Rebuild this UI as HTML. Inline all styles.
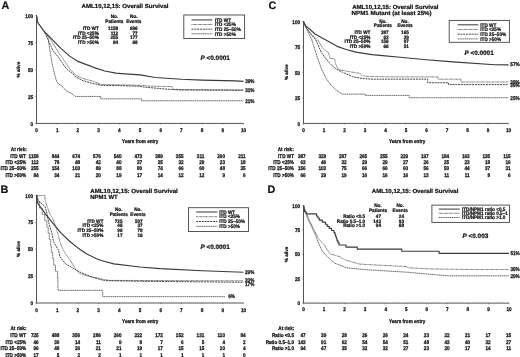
<!DOCTYPE html>
<html><head><meta charset="utf-8"><style>
html,body{margin:0;padding:0;background:#fff;}
svg{display:block;will-change:transform;}
text{font-family:"Liberation Sans",sans-serif;fill:#111;stroke:#111;stroke-width:0.22px;stroke-linejoin:round;text-rendering:geometricPrecision;}
</style></head><body>
<svg width="520" height="357" viewBox="0 0 520 357">
<rect width="520" height="357" fill="#fff"/>
<text x="1.5" y="8.7" font-size="10.8" font-weight="bold" fill="#000">A</text>
<text x="81.50" y="8.27" font-size="5.9" font-weight="bold" textLength="87.00" lengthAdjust="spacingAndGlyphs" fill="#000">AML10,12,15: Overall Survival</text>
<line x1="36.50" y1="15.30" x2="36.50" y2="123.40" stroke="#555" stroke-width="1.0"/>
<line x1="36.50" y1="123.40" x2="243.50" y2="123.40" stroke="#555" stroke-width="1.0"/>
<line x1="35.30" y1="123.40" x2="36.50" y2="123.40" stroke="#555" stroke-width="0.6"/>
<text transform="translate(33.10 125.97) scale(1 1.15)" font-size="4.65" text-anchor="end" font-weight="bold">0</text>
<line x1="35.30" y1="96.45" x2="36.50" y2="96.45" stroke="#555" stroke-width="0.6"/>
<text transform="translate(33.10 99.02) scale(1 1.15)" font-size="4.65" text-anchor="end" font-weight="bold">25</text>
<line x1="35.30" y1="69.50" x2="36.50" y2="69.50" stroke="#555" stroke-width="0.6"/>
<text transform="translate(33.10 72.07) scale(1 1.15)" font-size="4.65" text-anchor="end" font-weight="bold">50</text>
<line x1="35.30" y1="42.55" x2="36.50" y2="42.55" stroke="#555" stroke-width="0.6"/>
<text transform="translate(33.10 45.12) scale(1 1.15)" font-size="4.65" text-anchor="end" font-weight="bold">75</text>
<line x1="35.30" y1="15.60" x2="36.50" y2="15.60" stroke="#555" stroke-width="0.6"/>
<text transform="translate(33.10 18.17) scale(1 1.15)" font-size="4.65" text-anchor="end" font-weight="bold">100</text>
<line x1="36.50" y1="123.40" x2="36.50" y2="124.60" stroke="#555" stroke-width="0.6"/>
<text transform="translate(36.50 132.27) scale(1 1.15)" font-size="4.65" text-anchor="middle" font-weight="bold">0</text>
<line x1="57.20" y1="123.40" x2="57.20" y2="124.60" stroke="#555" stroke-width="0.6"/>
<text transform="translate(57.20 132.27) scale(1 1.15)" font-size="4.65" text-anchor="middle" font-weight="bold">1</text>
<line x1="77.90" y1="123.40" x2="77.90" y2="124.60" stroke="#555" stroke-width="0.6"/>
<text transform="translate(77.90 132.27) scale(1 1.15)" font-size="4.65" text-anchor="middle" font-weight="bold">2</text>
<line x1="98.60" y1="123.40" x2="98.60" y2="124.60" stroke="#555" stroke-width="0.6"/>
<text transform="translate(98.60 132.27) scale(1 1.15)" font-size="4.65" text-anchor="middle" font-weight="bold">3</text>
<line x1="119.30" y1="123.40" x2="119.30" y2="124.60" stroke="#555" stroke-width="0.6"/>
<text transform="translate(119.30 132.27) scale(1 1.15)" font-size="4.65" text-anchor="middle" font-weight="bold">4</text>
<line x1="140.00" y1="123.40" x2="140.00" y2="124.60" stroke="#555" stroke-width="0.6"/>
<text transform="translate(140.00 132.27) scale(1 1.15)" font-size="4.65" text-anchor="middle" font-weight="bold">5</text>
<line x1="160.70" y1="123.40" x2="160.70" y2="124.60" stroke="#555" stroke-width="0.6"/>
<text transform="translate(160.70 132.27) scale(1 1.15)" font-size="4.65" text-anchor="middle" font-weight="bold">6</text>
<line x1="181.40" y1="123.40" x2="181.40" y2="124.60" stroke="#555" stroke-width="0.6"/>
<text transform="translate(181.40 132.27) scale(1 1.15)" font-size="4.65" text-anchor="middle" font-weight="bold">7</text>
<line x1="202.10" y1="123.40" x2="202.10" y2="124.60" stroke="#555" stroke-width="0.6"/>
<text transform="translate(202.10 132.27) scale(1 1.15)" font-size="4.65" text-anchor="middle" font-weight="bold">8</text>
<line x1="222.80" y1="123.40" x2="222.80" y2="124.60" stroke="#555" stroke-width="0.6"/>
<text transform="translate(222.80 132.27) scale(1 1.15)" font-size="4.65" text-anchor="middle" font-weight="bold">9</text>
<line x1="243.50" y1="123.40" x2="243.50" y2="124.60" stroke="#555" stroke-width="0.6"/>
<text transform="translate(243.50 132.27) scale(1 1.15)" font-size="4.65" text-anchor="middle" font-weight="bold">10</text>
<text x="20.17" y="69.60" font-size="4.65" font-weight="bold" text-anchor="middle" transform="rotate(-90 20.17 69.60)" fill="#111">% alive</text>
<text transform="translate(122.10 143.17) scale(1 1.15)" font-size="4.65" font-weight="bold" textLength="36.30" lengthAdjust="spacingAndGlyphs">Years from entry</text>
<text transform="translate(114.40 17.94) scale(1 1.07)" font-size="4.65" text-anchor="middle" font-weight="bold">No.</text>
<text transform="translate(133.80 17.94) scale(1 1.07)" font-size="4.65" text-anchor="middle" font-weight="bold">No.</text>
<text transform="translate(114.40 22.74) scale(1 1.07)" font-size="4.65" text-anchor="middle" font-weight="bold">Patients</text>
<text transform="translate(133.80 22.74) scale(1 1.07)" font-size="4.65" text-anchor="middle" font-weight="bold">Events</text>
<text transform="translate(98.80 29.94) scale(1 1.07)" font-size="4.65" text-anchor="end" font-weight="bold">ITD WT</text>
<text transform="translate(118.20 29.94) scale(1 1.07)" font-size="4.65" text-anchor="end" font-weight="bold">1158</text>
<text transform="translate(137.70 29.94) scale(1 1.07)" font-size="4.65" text-anchor="end" font-weight="bold">696</text>
<text transform="translate(98.80 34.54) scale(1 1.07)" font-size="4.65" text-anchor="end" font-weight="bold">ITD &lt;25%</text>
<text transform="translate(118.20 34.54) scale(1 1.07)" font-size="4.65" text-anchor="end" font-weight="bold">112</text>
<text transform="translate(137.70 34.54) scale(1 1.07)" font-size="4.65" text-anchor="end" font-weight="bold">77</text>
<text transform="translate(98.80 39.04) scale(1 1.07)" font-size="4.65" text-anchor="end" font-weight="bold">ITD 25–50%</text>
<text transform="translate(118.20 39.04) scale(1 1.07)" font-size="4.65" text-anchor="end" font-weight="bold">255</text>
<text transform="translate(137.70 39.04) scale(1 1.07)" font-size="4.65" text-anchor="end" font-weight="bold">177</text>
<text transform="translate(98.80 43.54) scale(1 1.07)" font-size="4.65" text-anchor="end" font-weight="bold">ITD &gt;50%</text>
<text transform="translate(118.20 43.54) scale(1 1.07)" font-size="4.65" text-anchor="end" font-weight="bold">84</text>
<text transform="translate(137.70 43.54) scale(1 1.07)" font-size="4.65" text-anchor="end" font-weight="bold">68</text>
<rect x="183.80" y="15.00" width="60.80" height="23.50" fill="none" stroke="#444" stroke-width="0.9"/>
<line x1="191.50" y1="19.90" x2="212.30" y2="19.90" stroke="#484848" stroke-width="1.1"/>
<text transform="translate(215.00 21.69) scale(1 1.1)" font-size="4.65" font-weight="bold">ITD WT</text>
<line x1="191.50" y1="24.50" x2="212.30" y2="24.50" stroke="#505050" stroke-width="0.9" stroke-dasharray="0.8 0.45"/>
<text transform="translate(215.00 26.29) scale(1 1.1)" font-size="4.65" font-weight="bold">ITD &lt;25%</text>
<line x1="191.50" y1="29.20" x2="212.30" y2="29.20" stroke="#333" stroke-width="0.9" stroke-dasharray="2 0.8"/>
<text transform="translate(215.00 30.99) scale(1 1.1)" font-size="4.65" font-weight="bold">ITD 25–50%</text>
<line x1="191.50" y1="33.80" x2="212.30" y2="33.80" stroke="#5a5a5a" stroke-width="0.9" stroke-dasharray="1.4 0.45"/>
<text transform="translate(215.00 35.59) scale(1 1.1)" font-size="4.65" font-weight="bold">ITD &gt;50%</text>
<text x="200.50" y="59.50" font-size="6.4" font-weight="bold" fill="#000"><tspan font-style="italic">P</tspan> &lt;0.0001</text>
<path d="M36.50,15.60 L37.70,22.50 L44.37,31.77 L52.85,40.18 L61.13,48.59 L69.62,56.13 L77.28,61.09 L86.39,64.65 L90.73,66.16 L94.87,67.88 L104.81,71.01 L115.99,73.17 L121.58,73.60 L140.00,74.89 L155.32,77.48 L181.40,79.20 L202.10,80.06 L235.01,80.93 L243.50,81.36" fill="none" stroke="#3a3a3a" stroke-width="1.15" stroke-linejoin="round"/>
<path d="M36.50,15.60 L37.70,22.50 L44.37,31.77 L47.88,35.11 L56.16,48.59 L63.00,58.72 L69.62,68.75 L76.24,75.54 L83.07,78.45 L93.84,81.47 L101.50,84.59 L119.30,84.81 L142.90,85.45 L150.35,86.21 L172.08,86.53 L173.12,89.44 L243.50,89.98" fill="none" stroke="#505050" stroke-width="0.9" stroke-dasharray="0.8 0.45" stroke-linejoin="round"/>
<path d="M36.50,15.60 L37.70,22.50 L44.37,31.77 L46.02,35.11 L52.85,50.31 L59.48,58.72 L66.31,68.75 L72.93,73.81 L75.42,76.83 L83.07,80.71 L90.73,82.97 L101.50,85.35 L119.30,85.67 L140.00,86.21 L142.90,86.96 L164.63,89.01 L181.40,89.98 L243.50,90.31" fill="none" stroke="#333" stroke-width="0.9" stroke-dasharray="2 0.8" stroke-linejoin="round"/>
<path d="M36.50,15.60 L37.70,22.50 L44.37,31.77 L47.88,36.84 L50.37,53.55 L52.85,67.13 L56.16,79.96 L58.03,83.95 L61.55,85.35 L66.10,90.84 L70.86,93.11 L75.42,96.45 L100.67,96.45 L100.67,98.82 L141.45,98.82 L141.45,100.76 L243.50,100.76" fill="none" stroke="#5a5a5a" stroke-width="0.9" stroke-dasharray="1.4 0.45" stroke-linejoin="round"/>
<text transform="translate(245.20 83.07) scale(1 1.15)" font-size="4.65" font-weight="bold">39%</text>
<text transform="translate(245.20 92.17) scale(1 1.15)" font-size="4.65" font-weight="bold">31%</text>
<text transform="translate(245.20 102.67) scale(1 1.15)" font-size="4.65" font-weight="bold">21%</text>
<text transform="translate(10.80 151.07) scale(1 1.15)" font-size="4.65" font-weight="bold">At risk:</text>
<text transform="translate(26.20 157.57) scale(1 1.15)" font-size="4.65" text-anchor="end" font-weight="bold">ITD WT</text>
<text transform="translate(38.70 157.57) scale(1 1.15)" font-size="4.65" text-anchor="end" font-weight="bold">1158</text>
<text transform="translate(59.40 157.57) scale(1 1.15)" font-size="4.65" text-anchor="end" font-weight="bold">844</text>
<text transform="translate(80.10 157.57) scale(1 1.15)" font-size="4.65" text-anchor="end" font-weight="bold">674</text>
<text transform="translate(100.80 157.57) scale(1 1.15)" font-size="4.65" text-anchor="end" font-weight="bold">576</text>
<text transform="translate(121.50 157.57) scale(1 1.15)" font-size="4.65" text-anchor="end" font-weight="bold">540</text>
<text transform="translate(142.20 157.57) scale(1 1.15)" font-size="4.65" text-anchor="end" font-weight="bold">473</text>
<text transform="translate(162.90 157.57) scale(1 1.15)" font-size="4.65" text-anchor="end" font-weight="bold">389</text>
<text transform="translate(183.60 157.57) scale(1 1.15)" font-size="4.65" text-anchor="end" font-weight="bold">355</text>
<text transform="translate(204.30 157.57) scale(1 1.15)" font-size="4.65" text-anchor="end" font-weight="bold">311</text>
<text transform="translate(225.00 157.57) scale(1 1.15)" font-size="4.65" text-anchor="end" font-weight="bold">260</text>
<text transform="translate(245.70 157.57) scale(1 1.15)" font-size="4.65" text-anchor="end" font-weight="bold">211</text>
<text transform="translate(26.20 164.07) scale(1 1.15)" font-size="4.65" text-anchor="end" font-weight="bold">ITD &lt;25%</text>
<text transform="translate(38.70 164.07) scale(1 1.15)" font-size="4.65" text-anchor="end" font-weight="bold">112</text>
<text transform="translate(59.40 164.07) scale(1 1.15)" font-size="4.65" text-anchor="end" font-weight="bold">78</text>
<text transform="translate(80.10 164.07) scale(1 1.15)" font-size="4.65" text-anchor="end" font-weight="bold">48</text>
<text transform="translate(100.80 164.07) scale(1 1.15)" font-size="4.65" text-anchor="end" font-weight="bold">42</text>
<text transform="translate(121.50 164.07) scale(1 1.15)" font-size="4.65" text-anchor="end" font-weight="bold">40</text>
<text transform="translate(142.20 164.07) scale(1 1.15)" font-size="4.65" text-anchor="end" font-weight="bold">37</text>
<text transform="translate(162.90 164.07) scale(1 1.15)" font-size="4.65" text-anchor="end" font-weight="bold">35</text>
<text transform="translate(183.60 164.07) scale(1 1.15)" font-size="4.65" text-anchor="end" font-weight="bold">32</text>
<text transform="translate(204.30 164.07) scale(1 1.15)" font-size="4.65" text-anchor="end" font-weight="bold">29</text>
<text transform="translate(225.00 164.07) scale(1 1.15)" font-size="4.65" text-anchor="end" font-weight="bold">23</text>
<text transform="translate(245.70 164.07) scale(1 1.15)" font-size="4.65" text-anchor="end" font-weight="bold">18</text>
<text transform="translate(26.20 170.47) scale(1 1.15)" font-size="4.65" text-anchor="end" font-weight="bold">ITD 25–50%</text>
<text transform="translate(38.70 170.47) scale(1 1.15)" font-size="4.65" text-anchor="end" font-weight="bold">255</text>
<text transform="translate(59.40 170.47) scale(1 1.15)" font-size="4.65" text-anchor="end" font-weight="bold">154</text>
<text transform="translate(80.10 170.47) scale(1 1.15)" font-size="4.65" text-anchor="end" font-weight="bold">103</text>
<text transform="translate(100.80 170.47) scale(1 1.15)" font-size="4.65" text-anchor="end" font-weight="bold">89</text>
<text transform="translate(121.50 170.47) scale(1 1.15)" font-size="4.65" text-anchor="end" font-weight="bold">88</text>
<text transform="translate(142.20 170.47) scale(1 1.15)" font-size="4.65" text-anchor="end" font-weight="bold">80</text>
<text transform="translate(162.90 170.47) scale(1 1.15)" font-size="4.65" text-anchor="end" font-weight="bold">74</text>
<text transform="translate(183.60 170.47) scale(1 1.15)" font-size="4.65" text-anchor="end" font-weight="bold">66</text>
<text transform="translate(204.30 170.47) scale(1 1.15)" font-size="4.65" text-anchor="end" font-weight="bold">60</text>
<text transform="translate(225.00 170.47) scale(1 1.15)" font-size="4.65" text-anchor="end" font-weight="bold">48</text>
<text transform="translate(245.70 170.47) scale(1 1.15)" font-size="4.65" text-anchor="end" font-weight="bold">35</text>
<text transform="translate(26.20 176.97) scale(1 1.15)" font-size="4.65" text-anchor="end" font-weight="bold">ITD &gt;50%</text>
<text transform="translate(38.70 176.97) scale(1 1.15)" font-size="4.65" text-anchor="end" font-weight="bold">84</text>
<text transform="translate(59.40 176.97) scale(1 1.15)" font-size="4.65" text-anchor="end" font-weight="bold">34</text>
<text transform="translate(80.10 176.97) scale(1 1.15)" font-size="4.65" text-anchor="end" font-weight="bold">21</text>
<text transform="translate(100.80 176.97) scale(1 1.15)" font-size="4.65" text-anchor="end" font-weight="bold">20</text>
<text transform="translate(121.50 176.97) scale(1 1.15)" font-size="4.65" text-anchor="end" font-weight="bold">19</text>
<text transform="translate(142.20 176.97) scale(1 1.15)" font-size="4.65" text-anchor="end" font-weight="bold">17</text>
<text transform="translate(162.90 176.97) scale(1 1.15)" font-size="4.65" text-anchor="end" font-weight="bold">14</text>
<text transform="translate(183.60 176.97) scale(1 1.15)" font-size="4.65" text-anchor="end" font-weight="bold">12</text>
<text transform="translate(204.30 176.97) scale(1 1.15)" font-size="4.65" text-anchor="end" font-weight="bold">12</text>
<text transform="translate(225.00 176.97) scale(1 1.15)" font-size="4.65" text-anchor="end" font-weight="bold">9</text>
<text transform="translate(245.70 176.97) scale(1 1.15)" font-size="4.65" text-anchor="end" font-weight="bold">6</text>
<text x="0.6" y="192.5" font-size="10.8" font-weight="bold" fill="#000">B</text>
<text x="90.30" y="193.06" font-size="5.9" font-weight="bold" textLength="87.50" lengthAdjust="spacingAndGlyphs" fill="#000">AML10,12,15: Overall Survival</text>
<text x="90.30" y="199.47" font-size="5.9" font-weight="bold" textLength="27.30" lengthAdjust="spacingAndGlyphs" fill="#000">NPM1 WT</text>
<line x1="36.50" y1="195.10" x2="36.50" y2="303.00" stroke="#555" stroke-width="1.0"/>
<line x1="36.50" y1="303.00" x2="243.50" y2="303.00" stroke="#555" stroke-width="1.0"/>
<line x1="35.30" y1="303.00" x2="36.50" y2="303.00" stroke="#555" stroke-width="0.6"/>
<text transform="translate(33.10 305.17) scale(1 1.15)" font-size="4.65" text-anchor="end" font-weight="bold">0</text>
<line x1="35.30" y1="276.10" x2="36.50" y2="276.10" stroke="#555" stroke-width="0.6"/>
<text transform="translate(33.10 278.27) scale(1 1.15)" font-size="4.65" text-anchor="end" font-weight="bold">25</text>
<line x1="35.30" y1="249.20" x2="36.50" y2="249.20" stroke="#555" stroke-width="0.6"/>
<text transform="translate(33.10 251.37) scale(1 1.15)" font-size="4.65" text-anchor="end" font-weight="bold">50</text>
<line x1="35.30" y1="222.30" x2="36.50" y2="222.30" stroke="#555" stroke-width="0.6"/>
<text transform="translate(33.10 224.47) scale(1 1.15)" font-size="4.65" text-anchor="end" font-weight="bold">75</text>
<line x1="35.30" y1="195.40" x2="36.50" y2="195.40" stroke="#555" stroke-width="0.6"/>
<text transform="translate(33.10 197.57) scale(1 1.15)" font-size="4.65" text-anchor="end" font-weight="bold">100</text>
<line x1="36.50" y1="303.00" x2="36.50" y2="304.20" stroke="#555" stroke-width="0.6"/>
<text transform="translate(36.50 311.67) scale(1 1.15)" font-size="4.65" text-anchor="middle" font-weight="bold">0</text>
<line x1="57.20" y1="303.00" x2="57.20" y2="304.20" stroke="#555" stroke-width="0.6"/>
<text transform="translate(57.20 311.67) scale(1 1.15)" font-size="4.65" text-anchor="middle" font-weight="bold">1</text>
<line x1="77.90" y1="303.00" x2="77.90" y2="304.20" stroke="#555" stroke-width="0.6"/>
<text transform="translate(77.90 311.67) scale(1 1.15)" font-size="4.65" text-anchor="middle" font-weight="bold">2</text>
<line x1="98.60" y1="303.00" x2="98.60" y2="304.20" stroke="#555" stroke-width="0.6"/>
<text transform="translate(98.60 311.67) scale(1 1.15)" font-size="4.65" text-anchor="middle" font-weight="bold">3</text>
<line x1="119.30" y1="303.00" x2="119.30" y2="304.20" stroke="#555" stroke-width="0.6"/>
<text transform="translate(119.30 311.67) scale(1 1.15)" font-size="4.65" text-anchor="middle" font-weight="bold">4</text>
<line x1="140.00" y1="303.00" x2="140.00" y2="304.20" stroke="#555" stroke-width="0.6"/>
<text transform="translate(140.00 311.67) scale(1 1.15)" font-size="4.65" text-anchor="middle" font-weight="bold">5</text>
<line x1="160.70" y1="303.00" x2="160.70" y2="304.20" stroke="#555" stroke-width="0.6"/>
<text transform="translate(160.70 311.67) scale(1 1.15)" font-size="4.65" text-anchor="middle" font-weight="bold">6</text>
<line x1="181.40" y1="303.00" x2="181.40" y2="304.20" stroke="#555" stroke-width="0.6"/>
<text transform="translate(181.40 311.67) scale(1 1.15)" font-size="4.65" text-anchor="middle" font-weight="bold">7</text>
<line x1="202.10" y1="303.00" x2="202.10" y2="304.20" stroke="#555" stroke-width="0.6"/>
<text transform="translate(202.10 311.67) scale(1 1.15)" font-size="4.65" text-anchor="middle" font-weight="bold">8</text>
<line x1="222.80" y1="303.00" x2="222.80" y2="304.20" stroke="#555" stroke-width="0.6"/>
<text transform="translate(222.80 311.67) scale(1 1.15)" font-size="4.65" text-anchor="middle" font-weight="bold">9</text>
<line x1="243.50" y1="303.00" x2="243.50" y2="304.20" stroke="#555" stroke-width="0.6"/>
<text transform="translate(243.50 311.67) scale(1 1.15)" font-size="4.65" text-anchor="middle" font-weight="bold">10</text>
<text x="20.17" y="249.10" font-size="4.65" font-weight="bold" text-anchor="middle" transform="rotate(-90 20.17 249.10)" fill="#111">% alive</text>
<text transform="translate(122.10 322.87) scale(1 1.15)" font-size="4.65" font-weight="bold" textLength="36.30" lengthAdjust="spacingAndGlyphs">Years from entry</text>
<text transform="translate(118.70 210.54) scale(1 1.07)" font-size="4.65" text-anchor="middle" font-weight="bold">No.</text>
<text transform="translate(137.90 210.54) scale(1 1.07)" font-size="4.65" text-anchor="middle" font-weight="bold">No.</text>
<text transform="translate(118.70 215.74) scale(1 1.07)" font-size="4.65" text-anchor="middle" font-weight="bold">Patients</text>
<text transform="translate(137.90 215.74) scale(1 1.07)" font-size="4.65" text-anchor="middle" font-weight="bold">Events</text>
<text transform="translate(103.30 222.54) scale(1 1.07)" font-size="4.65" text-anchor="end" font-weight="bold">ITD WT</text>
<text transform="translate(122.50 222.54) scale(1 1.07)" font-size="4.65" text-anchor="end" font-weight="bold">725</text>
<text transform="translate(142.70 222.54) scale(1 1.07)" font-size="4.65" text-anchor="end" font-weight="bold">507</text>
<text transform="translate(103.30 227.24) scale(1 1.07)" font-size="4.65" text-anchor="end" font-weight="bold">ITD &lt;25%</text>
<text transform="translate(122.50 227.24) scale(1 1.07)" font-size="4.65" text-anchor="end" font-weight="bold">46</text>
<text transform="translate(142.70 227.24) scale(1 1.07)" font-size="4.65" text-anchor="end" font-weight="bold">37</text>
<text transform="translate(103.30 231.84) scale(1 1.07)" font-size="4.65" text-anchor="end" font-weight="bold">ITD 25–50%</text>
<text transform="translate(122.50 231.84) scale(1 1.07)" font-size="4.65" text-anchor="end" font-weight="bold">96</text>
<text transform="translate(142.70 231.84) scale(1 1.07)" font-size="4.65" text-anchor="end" font-weight="bold">78</text>
<text transform="translate(103.30 236.54) scale(1 1.07)" font-size="4.65" text-anchor="end" font-weight="bold">ITD &gt;50%</text>
<text transform="translate(122.50 236.54) scale(1 1.07)" font-size="4.65" text-anchor="end" font-weight="bold">17</text>
<text transform="translate(142.70 236.54) scale(1 1.07)" font-size="4.65" text-anchor="end" font-weight="bold">16</text>
<rect x="188.50" y="207.70" width="60.00" height="23.80" fill="none" stroke="#444" stroke-width="0.9"/>
<line x1="196.20" y1="212.00" x2="217.40" y2="212.00" stroke="#484848" stroke-width="1.1"/>
<text transform="translate(219.20 213.79) scale(1 1.1)" font-size="4.65" font-weight="bold">ITD WT</text>
<line x1="196.20" y1="216.70" x2="217.40" y2="216.70" stroke="#505050" stroke-width="0.9" stroke-dasharray="0.8 0.45"/>
<text transform="translate(219.20 218.49) scale(1 1.1)" font-size="4.65" font-weight="bold">ITD &lt;25%</text>
<line x1="196.20" y1="221.50" x2="217.40" y2="221.50" stroke="#333" stroke-width="0.9" stroke-dasharray="2 0.8"/>
<text transform="translate(219.20 223.29) scale(1 1.1)" font-size="4.65" font-weight="bold">ITD 25–50%</text>
<line x1="196.20" y1="226.30" x2="217.40" y2="226.30" stroke="#5a5a5a" stroke-width="0.9" stroke-dasharray="1.4 0.45"/>
<text transform="translate(219.20 228.09) scale(1 1.1)" font-size="4.65" font-weight="bold">ITD &gt;50%</text>
<text x="200.40" y="249.20" font-size="6.4" font-weight="bold" fill="#000"><tspan font-style="italic">P</tspan> &lt;0.0001</text>
<path d="M36.50,195.40 L37.74,203.36 L46.02,214.66 L52.85,223.05 L61.13,233.17 L69.62,241.24 L77.90,247.91 L86.39,253.83 L96.53,258.78 L101.29,260.50 L113.92,263.83 L140.00,266.95 L160.08,268.68 L202.10,270.72 L243.50,272.23" fill="none" stroke="#3a3a3a" stroke-width="1.15" stroke-linejoin="round"/>
<path d="M36.50,195.40 L44.99,195.40 L44.99,200.03 L47.88,208.42 L50.37,215.09 L52.85,218.53 L55.34,225.21 L57.82,233.60 L59.48,240.27 L61.75,246.83 L65.27,253.50 L70.24,260.18 L75.21,268.57 L79.76,273.63 L88.25,276.10 L101.29,278.90 L108.95,280.40 L243.50,280.83" fill="none" stroke="#505050" stroke-width="0.9" stroke-dasharray="0.8 0.45" stroke-linejoin="round"/>
<path d="M36.50,195.40 L38.57,200.78 L45.19,206.70 L46.85,213.37 L47.88,218.53 L49.33,225.21 L52.02,233.60 L53.47,241.67 L58.44,250.06 L60.10,256.84 L65.27,263.62 L73.55,268.57 L79.76,272.01 L92.80,277.39 L104.60,280.62 L140.00,281.26 L243.50,282.23" fill="none" stroke="#333" stroke-width="0.9" stroke-dasharray="2 0.8" stroke-linejoin="round"/>
<path d="M36.50,195.40H37.53V201.74H39.60V208.06H42.37V214.39H44.78V220.72H46.85V227.05H48.23V233.38H49.27V239.71H50.64V246.04H51.34V252.37H52.72V258.70H53.75V265.03H55.47V271.35H57.55V277.68H57.89V290.34H102.74V296.67H224.87" fill="none" stroke="#5a5a5a" stroke-width="0.9" stroke-dasharray="1.4 0.45" stroke-linejoin="round"/>
<text transform="translate(245.00 273.87) scale(1 1.15)" font-size="4.65" font-weight="bold">29%</text>
<text transform="translate(245.00 282.47) scale(1 1.15)" font-size="4.65" font-weight="bold">20%</text>
<text transform="translate(245.00 286.47) scale(1 1.15)" font-size="4.65" font-weight="bold">17%</text>
<text transform="translate(228.20 298.07) scale(1 1.15)" font-size="4.65" font-weight="bold">6%</text>
<text transform="translate(10.50 330.27) scale(1 1.15)" font-size="4.65" font-weight="bold">At risk:</text>
<text transform="translate(26.20 336.87) scale(1 1.15)" font-size="4.65" text-anchor="end" font-weight="bold">ITD WT</text>
<text transform="translate(38.70 336.87) scale(1 1.15)" font-size="4.65" text-anchor="end" font-weight="bold">725</text>
<text transform="translate(59.40 336.87) scale(1 1.15)" font-size="4.65" text-anchor="end" font-weight="bold">488</text>
<text transform="translate(80.10 336.87) scale(1 1.15)" font-size="4.65" text-anchor="end" font-weight="bold">356</text>
<text transform="translate(100.80 336.87) scale(1 1.15)" font-size="4.65" text-anchor="end" font-weight="bold">286</text>
<text transform="translate(121.50 336.87) scale(1 1.15)" font-size="4.65" text-anchor="end" font-weight="bold">260</text>
<text transform="translate(142.20 336.87) scale(1 1.15)" font-size="4.65" text-anchor="end" font-weight="bold">222</text>
<text transform="translate(162.90 336.87) scale(1 1.15)" font-size="4.65" text-anchor="end" font-weight="bold">172</text>
<text transform="translate(183.60 336.87) scale(1 1.15)" font-size="4.65" text-anchor="end" font-weight="bold">152</text>
<text transform="translate(204.30 336.87) scale(1 1.15)" font-size="4.65" text-anchor="end" font-weight="bold">131</text>
<text transform="translate(225.00 336.87) scale(1 1.15)" font-size="4.65" text-anchor="end" font-weight="bold">110</text>
<text transform="translate(245.70 336.87) scale(1 1.15)" font-size="4.65" text-anchor="end" font-weight="bold">84</text>
<text transform="translate(26.20 343.57) scale(1 1.15)" font-size="4.65" text-anchor="end" font-weight="bold">ITD &lt;25%</text>
<text transform="translate(38.70 343.57) scale(1 1.15)" font-size="4.65" text-anchor="end" font-weight="bold">46</text>
<text transform="translate(59.40 343.57) scale(1 1.15)" font-size="4.65" text-anchor="end" font-weight="bold">30</text>
<text transform="translate(80.10 343.57) scale(1 1.15)" font-size="4.65" text-anchor="end" font-weight="bold">14</text>
<text transform="translate(100.80 343.57) scale(1 1.15)" font-size="4.65" text-anchor="end" font-weight="bold">11</text>
<text transform="translate(121.50 343.57) scale(1 1.15)" font-size="4.65" text-anchor="end" font-weight="bold">9</text>
<text transform="translate(142.20 343.57) scale(1 1.15)" font-size="4.65" text-anchor="end" font-weight="bold">8</text>
<text transform="translate(162.90 343.57) scale(1 1.15)" font-size="4.65" text-anchor="end" font-weight="bold">7</text>
<text transform="translate(183.60 343.57) scale(1 1.15)" font-size="4.65" text-anchor="end" font-weight="bold">6</text>
<text transform="translate(204.30 343.57) scale(1 1.15)" font-size="4.65" text-anchor="end" font-weight="bold">5</text>
<text transform="translate(225.00 343.57) scale(1 1.15)" font-size="4.65" text-anchor="end" font-weight="bold">4</text>
<text transform="translate(245.70 343.57) scale(1 1.15)" font-size="4.65" text-anchor="end" font-weight="bold">2</text>
<text transform="translate(26.20 350.17) scale(1 1.15)" font-size="4.65" text-anchor="end" font-weight="bold">ITD 25–50%</text>
<text transform="translate(38.70 350.17) scale(1 1.15)" font-size="4.65" text-anchor="end" font-weight="bold">96</text>
<text transform="translate(59.40 350.17) scale(1 1.15)" font-size="4.65" text-anchor="end" font-weight="bold">48</text>
<text transform="translate(80.10 350.17) scale(1 1.15)" font-size="4.65" text-anchor="end" font-weight="bold">26</text>
<text transform="translate(100.80 350.17) scale(1 1.15)" font-size="4.65" text-anchor="end" font-weight="bold">21</text>
<text transform="translate(121.50 350.17) scale(1 1.15)" font-size="4.65" text-anchor="end" font-weight="bold">21</text>
<text transform="translate(142.20 350.17) scale(1 1.15)" font-size="4.65" text-anchor="end" font-weight="bold">19</text>
<text transform="translate(162.90 350.17) scale(1 1.15)" font-size="4.65" text-anchor="end" font-weight="bold">17</text>
<text transform="translate(183.60 350.17) scale(1 1.15)" font-size="4.65" text-anchor="end" font-weight="bold">15</text>
<text transform="translate(204.30 350.17) scale(1 1.15)" font-size="4.65" text-anchor="end" font-weight="bold">15</text>
<text transform="translate(225.00 350.17) scale(1 1.15)" font-size="4.65" text-anchor="end" font-weight="bold">10</text>
<text transform="translate(245.70 350.17) scale(1 1.15)" font-size="4.65" text-anchor="end" font-weight="bold">4</text>
<text transform="translate(26.20 356.57) scale(1 1.15)" font-size="4.65" text-anchor="end" font-weight="bold">ITD &gt;50%</text>
<text transform="translate(38.70 356.57) scale(1 1.15)" font-size="4.65" text-anchor="end" font-weight="bold">17</text>
<text transform="translate(59.40 356.57) scale(1 1.15)" font-size="4.65" text-anchor="end" font-weight="bold">5</text>
<text transform="translate(80.10 356.57) scale(1 1.15)" font-size="4.65" text-anchor="end" font-weight="bold">2</text>
<text transform="translate(100.80 356.57) scale(1 1.15)" font-size="4.65" text-anchor="end" font-weight="bold">2</text>
<text transform="translate(121.50 356.57) scale(1 1.15)" font-size="4.65" text-anchor="end" font-weight="bold">1</text>
<text transform="translate(142.20 356.57) scale(1 1.15)" font-size="4.65" text-anchor="end" font-weight="bold">1</text>
<text transform="translate(162.90 356.57) scale(1 1.15)" font-size="4.65" text-anchor="end" font-weight="bold">1</text>
<text transform="translate(183.60 356.57) scale(1 1.15)" font-size="4.65" text-anchor="end" font-weight="bold">1</text>
<text transform="translate(204.30 356.57) scale(1 1.15)" font-size="4.65" text-anchor="end" font-weight="bold">1</text>
<text transform="translate(225.00 356.57) scale(1 1.15)" font-size="4.65" text-anchor="end" font-weight="bold">1</text>
<text transform="translate(245.70 356.57) scale(1 1.15)" font-size="4.65" text-anchor="end" font-weight="bold">0</text>
<text x="268.6" y="8.7" font-size="10.8" font-weight="bold" fill="#000">C</text>
<text x="352.20" y="8.77" font-size="5.9" font-weight="bold" textLength="86.30" lengthAdjust="spacingAndGlyphs" fill="#000">AML10,12,15: Overall Survival</text>
<text x="351.60" y="14.96" font-size="5.9" font-weight="bold" textLength="80.00" lengthAdjust="spacingAndGlyphs" fill="#000">NPM1 Mutant (at least 25%)</text>
<line x1="303.50" y1="21.20" x2="303.50" y2="123.40" stroke="#555" stroke-width="1.0"/>
<line x1="303.50" y1="123.40" x2="508.50" y2="123.40" stroke="#555" stroke-width="1.0"/>
<line x1="302.30" y1="123.40" x2="303.50" y2="123.40" stroke="#555" stroke-width="0.6"/>
<text transform="translate(300.10 125.67) scale(1 1.15)" font-size="4.65" text-anchor="end" font-weight="bold">0</text>
<line x1="302.30" y1="97.93" x2="303.50" y2="97.93" stroke="#555" stroke-width="0.6"/>
<text transform="translate(300.10 100.20) scale(1 1.15)" font-size="4.65" text-anchor="end" font-weight="bold">25</text>
<line x1="302.30" y1="72.45" x2="303.50" y2="72.45" stroke="#555" stroke-width="0.6"/>
<text transform="translate(300.10 74.72) scale(1 1.15)" font-size="4.65" text-anchor="end" font-weight="bold">50</text>
<line x1="302.30" y1="46.98" x2="303.50" y2="46.98" stroke="#555" stroke-width="0.6"/>
<text transform="translate(300.10 49.25) scale(1 1.15)" font-size="4.65" text-anchor="end" font-weight="bold">75</text>
<line x1="302.30" y1="21.50" x2="303.50" y2="21.50" stroke="#555" stroke-width="0.6"/>
<text transform="translate(300.10 23.77) scale(1 1.15)" font-size="4.65" text-anchor="end" font-weight="bold">100</text>
<line x1="303.50" y1="123.40" x2="303.50" y2="124.60" stroke="#555" stroke-width="0.6"/>
<text transform="translate(303.50 131.87) scale(1 1.15)" font-size="4.65" text-anchor="middle" font-weight="bold">0</text>
<line x1="324.00" y1="123.40" x2="324.00" y2="124.60" stroke="#555" stroke-width="0.6"/>
<text transform="translate(324.00 131.87) scale(1 1.15)" font-size="4.65" text-anchor="middle" font-weight="bold">1</text>
<line x1="344.50" y1="123.40" x2="344.50" y2="124.60" stroke="#555" stroke-width="0.6"/>
<text transform="translate(344.50 131.87) scale(1 1.15)" font-size="4.65" text-anchor="middle" font-weight="bold">2</text>
<line x1="365.00" y1="123.40" x2="365.00" y2="124.60" stroke="#555" stroke-width="0.6"/>
<text transform="translate(365.00 131.87) scale(1 1.15)" font-size="4.65" text-anchor="middle" font-weight="bold">3</text>
<line x1="385.50" y1="123.40" x2="385.50" y2="124.60" stroke="#555" stroke-width="0.6"/>
<text transform="translate(385.50 131.87) scale(1 1.15)" font-size="4.65" text-anchor="middle" font-weight="bold">4</text>
<line x1="406.00" y1="123.40" x2="406.00" y2="124.60" stroke="#555" stroke-width="0.6"/>
<text transform="translate(406.00 131.87) scale(1 1.15)" font-size="4.65" text-anchor="middle" font-weight="bold">5</text>
<line x1="426.50" y1="123.40" x2="426.50" y2="124.60" stroke="#555" stroke-width="0.6"/>
<text transform="translate(426.50 131.87) scale(1 1.15)" font-size="4.65" text-anchor="middle" font-weight="bold">6</text>
<line x1="447.00" y1="123.40" x2="447.00" y2="124.60" stroke="#555" stroke-width="0.6"/>
<text transform="translate(447.00 131.87) scale(1 1.15)" font-size="4.65" text-anchor="middle" font-weight="bold">7</text>
<line x1="467.50" y1="123.40" x2="467.50" y2="124.60" stroke="#555" stroke-width="0.6"/>
<text transform="translate(467.50 131.87) scale(1 1.15)" font-size="4.65" text-anchor="middle" font-weight="bold">8</text>
<line x1="488.00" y1="123.40" x2="488.00" y2="124.60" stroke="#555" stroke-width="0.6"/>
<text transform="translate(488.00 131.87) scale(1 1.15)" font-size="4.65" text-anchor="middle" font-weight="bold">9</text>
<line x1="508.50" y1="123.40" x2="508.50" y2="124.60" stroke="#555" stroke-width="0.6"/>
<text transform="translate(508.50 131.87) scale(1 1.15)" font-size="4.65" text-anchor="middle" font-weight="bold">10</text>
<text x="287.67" y="72.20" font-size="4.65" font-weight="bold" text-anchor="middle" transform="rotate(-90 287.67 72.20)" fill="#111">% alive</text>
<text transform="translate(389.00 142.77) scale(1 1.15)" font-size="4.65" font-weight="bold" textLength="36.30" lengthAdjust="spacingAndGlyphs">Years from entry</text>
<text transform="translate(382.90 22.94) scale(1 1.07)" font-size="4.65" text-anchor="middle" font-weight="bold">No.</text>
<text transform="translate(405.00 22.94) scale(1 1.07)" font-size="4.65" text-anchor="middle" font-weight="bold">No.</text>
<text transform="translate(382.90 27.34) scale(1 1.07)" font-size="4.65" text-anchor="middle" font-weight="bold">Patients</text>
<text transform="translate(405.00 27.34) scale(1 1.07)" font-size="4.65" text-anchor="middle" font-weight="bold">Events</text>
<text transform="translate(370.40 34.44) scale(1 1.07)" font-size="4.65" text-anchor="end" font-weight="bold">ITD WT</text>
<text transform="translate(388.70 34.44) scale(1 1.07)" font-size="4.65" text-anchor="end" font-weight="bold">387</text>
<text transform="translate(408.80 34.44) scale(1 1.07)" font-size="4.65" text-anchor="end" font-weight="bold">165</text>
<text transform="translate(370.40 38.84) scale(1 1.07)" font-size="4.65" text-anchor="end" font-weight="bold">ITD &lt;25%</text>
<text transform="translate(388.70 38.84) scale(1 1.07)" font-size="4.65" text-anchor="end" font-weight="bold">63</text>
<text transform="translate(408.80 38.84) scale(1 1.07)" font-size="4.65" text-anchor="end" font-weight="bold">39</text>
<text transform="translate(370.40 43.24) scale(1 1.07)" font-size="4.65" text-anchor="end" font-weight="bold">ITD 25–50%</text>
<text transform="translate(388.70 43.24) scale(1 1.07)" font-size="4.65" text-anchor="end" font-weight="bold">156</text>
<text transform="translate(408.80 43.24) scale(1 1.07)" font-size="4.65" text-anchor="end" font-weight="bold">97</text>
<text transform="translate(370.40 47.64) scale(1 1.07)" font-size="4.65" text-anchor="end" font-weight="bold">ITD &gt;50%</text>
<text transform="translate(388.70 47.64) scale(1 1.07)" font-size="4.65" text-anchor="end" font-weight="bold">66</text>
<text transform="translate(408.80 47.64) scale(1 1.07)" font-size="4.65" text-anchor="end" font-weight="bold">51</text>
<rect x="449.20" y="20.40" width="60.20" height="21.90" fill="none" stroke="#444" stroke-width="0.9"/>
<line x1="457.60" y1="24.80" x2="478.30" y2="24.80" stroke="#484848" stroke-width="1.1"/>
<text transform="translate(480.30 26.59) scale(1 1.1)" font-size="4.65" font-weight="bold">ITD WT</text>
<line x1="457.60" y1="29.50" x2="478.30" y2="29.50" stroke="#505050" stroke-width="0.9" stroke-dasharray="0.8 0.45"/>
<text transform="translate(480.30 31.29) scale(1 1.1)" font-size="4.65" font-weight="bold">ITD &lt;25%</text>
<line x1="457.60" y1="34.20" x2="478.30" y2="34.20" stroke="#333" stroke-width="0.9" stroke-dasharray="2 0.8"/>
<text transform="translate(480.30 35.99) scale(1 1.1)" font-size="4.65" font-weight="bold">ITD 25–50%</text>
<line x1="457.60" y1="38.90" x2="478.30" y2="38.90" stroke="#5a5a5a" stroke-width="0.9" stroke-dasharray="1.4 0.45"/>
<text transform="translate(480.30 40.69) scale(1 1.1)" font-size="4.65" font-weight="bold">ITD &gt;50%</text>
<text x="464.40" y="54.90" font-size="6.4" font-weight="bold" fill="#000"><tspan font-style="italic">P</tspan> &lt;0.0001</text>
<path d="M303.50,21.50 L305.55,25.58 L315.39,34.24 L325.85,40.05 L337.12,46.36 L346.14,49.52 L355.98,52.07 L371.97,54.62 L379.97,55.33 L400.06,57.27 L426.50,59.71 L452.94,61.85 L494.76,64.71 L508.50,64.81" fill="none" stroke="#3a3a3a" stroke-width="1.15" stroke-linejoin="round"/>
<path d="M303.50,21.50 L306.17,28.02 L311.70,34.75 L317.64,39.84 L323.18,48.81 L328.31,52.58 L330.15,58.29 L334.66,58.90 L336.10,65.22 L338.56,69.60 L348.60,71.53 L359.88,73.37 L362.54,75.91 L371.97,76.63 L400.06,76.93 L437.98,76.93 L437.98,79.18 L460.94,79.18 L460.94,82.03 L508.50,82.03" fill="none" stroke="#505050" stroke-width="0.9" stroke-dasharray="0.8 0.45" stroke-linejoin="round"/>
<path d="M303.50,21.50 L306.17,28.02 L310.68,33.73 L315.80,39.84 L321.33,52.58 L326.05,58.90 L330.97,64.60 L336.10,68.99 L342.45,72.25 L352.50,76.63 L362.54,78.56 L371.97,79.18 L427.73,79.18 L427.73,82.74 L448.44,82.74 L448.44,84.58 L508.50,84.58" fill="none" stroke="#333" stroke-width="0.9" stroke-dasharray="2 0.8" stroke-linejoin="round"/>
<path d="M303.50,21.50 L306.17,28.02 L311.90,40.05 L317.03,56.45 L321.54,68.99 L325.85,77.85 L328.71,82.13 L330.97,84.98 L335.69,89.77 L342.25,94.15 L365.41,94.15 L365.41,95.38 L409.28,95.38 L409.28,97.72 L508.50,97.72" fill="none" stroke="#5a5a5a" stroke-width="0.9" stroke-dasharray="1.4 0.45" stroke-linejoin="round"/>
<text transform="translate(510.30 65.97) scale(1 1.15)" font-size="4.65" font-weight="bold">57%</text>
<text transform="translate(510.30 83.87) scale(1 1.15)" font-size="4.65" font-weight="bold">38%</text>
<text transform="translate(510.30 86.87) scale(1 1.15)" font-size="4.65" font-weight="bold">36%</text>
<text transform="translate(510.30 99.57) scale(1 1.15)" font-size="4.65" font-weight="bold">25%</text>
<text transform="translate(277.70 150.87) scale(1 1.15)" font-size="4.65" font-weight="bold">At risk:</text>
<text transform="translate(294.00 157.67) scale(1 1.15)" font-size="4.65" text-anchor="end" font-weight="bold">ITD WT</text>
<text transform="translate(305.70 157.67) scale(1 1.15)" font-size="4.65" text-anchor="end" font-weight="bold">387</text>
<text transform="translate(326.20 157.67) scale(1 1.15)" font-size="4.65" text-anchor="end" font-weight="bold">329</text>
<text transform="translate(346.70 157.67) scale(1 1.15)" font-size="4.65" text-anchor="end" font-weight="bold">287</text>
<text transform="translate(367.20 157.67) scale(1 1.15)" font-size="4.65" text-anchor="end" font-weight="bold">265</text>
<text transform="translate(387.70 157.67) scale(1 1.15)" font-size="4.65" text-anchor="end" font-weight="bold">255</text>
<text transform="translate(408.20 157.67) scale(1 1.15)" font-size="4.65" text-anchor="end" font-weight="bold">229</text>
<text transform="translate(428.70 157.67) scale(1 1.15)" font-size="4.65" text-anchor="end" font-weight="bold">197</text>
<text transform="translate(449.20 157.67) scale(1 1.15)" font-size="4.65" text-anchor="end" font-weight="bold">184</text>
<text transform="translate(469.70 157.67) scale(1 1.15)" font-size="4.65" text-anchor="end" font-weight="bold">163</text>
<text transform="translate(490.20 157.67) scale(1 1.15)" font-size="4.65" text-anchor="end" font-weight="bold">135</text>
<text transform="translate(510.70 157.67) scale(1 1.15)" font-size="4.65" text-anchor="end" font-weight="bold">115</text>
<text transform="translate(294.00 163.97) scale(1 1.15)" font-size="4.65" text-anchor="end" font-weight="bold">ITD &lt;25%</text>
<text transform="translate(305.70 163.97) scale(1 1.15)" font-size="4.65" text-anchor="end" font-weight="bold">63</text>
<text transform="translate(326.20 163.97) scale(1 1.15)" font-size="4.65" text-anchor="end" font-weight="bold">46</text>
<text transform="translate(346.70 163.97) scale(1 1.15)" font-size="4.65" text-anchor="end" font-weight="bold">32</text>
<text transform="translate(367.20 163.97) scale(1 1.15)" font-size="4.65" text-anchor="end" font-weight="bold">29</text>
<text transform="translate(387.70 163.97) scale(1 1.15)" font-size="4.65" text-anchor="end" font-weight="bold">29</text>
<text transform="translate(408.20 163.97) scale(1 1.15)" font-size="4.65" text-anchor="end" font-weight="bold">27</text>
<text transform="translate(428.70 163.97) scale(1 1.15)" font-size="4.65" text-anchor="end" font-weight="bold">26</text>
<text transform="translate(449.20 163.97) scale(1 1.15)" font-size="4.65" text-anchor="end" font-weight="bold">25</text>
<text transform="translate(469.70 163.97) scale(1 1.15)" font-size="4.65" text-anchor="end" font-weight="bold">23</text>
<text transform="translate(490.20 163.97) scale(1 1.15)" font-size="4.65" text-anchor="end" font-weight="bold">18</text>
<text transform="translate(510.70 163.97) scale(1 1.15)" font-size="4.65" text-anchor="end" font-weight="bold">16</text>
<text transform="translate(294.00 170.47) scale(1 1.15)" font-size="4.65" text-anchor="end" font-weight="bold">ITD 25–50%</text>
<text transform="translate(305.70 170.47) scale(1 1.15)" font-size="4.65" text-anchor="end" font-weight="bold">156</text>
<text transform="translate(326.20 170.47) scale(1 1.15)" font-size="4.65" text-anchor="end" font-weight="bold">103</text>
<text transform="translate(346.70 170.47) scale(1 1.15)" font-size="4.65" text-anchor="end" font-weight="bold">75</text>
<text transform="translate(367.20 170.47) scale(1 1.15)" font-size="4.65" text-anchor="end" font-weight="bold">66</text>
<text transform="translate(387.70 170.47) scale(1 1.15)" font-size="4.65" text-anchor="end" font-weight="bold">66</text>
<text transform="translate(408.20 170.47) scale(1 1.15)" font-size="4.65" text-anchor="end" font-weight="bold">60</text>
<text transform="translate(428.70 170.47) scale(1 1.15)" font-size="4.65" text-anchor="end" font-weight="bold">56</text>
<text transform="translate(449.20 170.47) scale(1 1.15)" font-size="4.65" text-anchor="end" font-weight="bold">50</text>
<text transform="translate(469.70 170.47) scale(1 1.15)" font-size="4.65" text-anchor="end" font-weight="bold">44</text>
<text transform="translate(490.20 170.47) scale(1 1.15)" font-size="4.65" text-anchor="end" font-weight="bold">37</text>
<text transform="translate(510.70 170.47) scale(1 1.15)" font-size="4.65" text-anchor="end" font-weight="bold">31</text>
<text transform="translate(294.00 176.87) scale(1 1.15)" font-size="4.65" text-anchor="end" font-weight="bold">ITD &gt;50%</text>
<text transform="translate(305.70 176.87) scale(1 1.15)" font-size="4.65" text-anchor="end" font-weight="bold">66</text>
<text transform="translate(326.20 176.87) scale(1 1.15)" font-size="4.65" text-anchor="end" font-weight="bold">29</text>
<text transform="translate(346.70 176.87) scale(1 1.15)" font-size="4.65" text-anchor="end" font-weight="bold">19</text>
<text transform="translate(367.20 176.87) scale(1 1.15)" font-size="4.65" text-anchor="end" font-weight="bold">16</text>
<text transform="translate(387.70 176.87) scale(1 1.15)" font-size="4.65" text-anchor="end" font-weight="bold">16</text>
<text transform="translate(408.20 176.87) scale(1 1.15)" font-size="4.65" text-anchor="end" font-weight="bold">16</text>
<text transform="translate(428.70 176.87) scale(1 1.15)" font-size="4.65" text-anchor="end" font-weight="bold">13</text>
<text transform="translate(449.20 176.87) scale(1 1.15)" font-size="4.65" text-anchor="end" font-weight="bold">11</text>
<text transform="translate(469.70 176.87) scale(1 1.15)" font-size="4.65" text-anchor="end" font-weight="bold">11</text>
<text transform="translate(490.20 176.87) scale(1 1.15)" font-size="4.65" text-anchor="end" font-weight="bold">8</text>
<text transform="translate(510.70 176.87) scale(1 1.15)" font-size="4.65" text-anchor="end" font-weight="bold">6</text>
<text x="267.6" y="192.6" font-size="10.8" font-weight="bold" fill="#000">D</text>
<text x="371.80" y="193.16" font-size="5.9" font-weight="bold" textLength="86.60" lengthAdjust="spacingAndGlyphs" fill="#000">AML10,12,15: Overall Survival</text>
<line x1="303.50" y1="205.40" x2="303.50" y2="303.10" stroke="#555" stroke-width="1.0"/>
<line x1="303.50" y1="303.10" x2="509.00" y2="303.10" stroke="#555" stroke-width="1.0"/>
<line x1="302.30" y1="303.10" x2="303.50" y2="303.10" stroke="#555" stroke-width="0.6"/>
<text transform="translate(300.10 304.97) scale(1 1.15)" font-size="4.65" text-anchor="end" font-weight="bold">0</text>
<line x1="302.30" y1="278.75" x2="303.50" y2="278.75" stroke="#555" stroke-width="0.6"/>
<text transform="translate(300.10 280.62) scale(1 1.15)" font-size="4.65" text-anchor="end" font-weight="bold">25</text>
<line x1="302.30" y1="254.40" x2="303.50" y2="254.40" stroke="#555" stroke-width="0.6"/>
<text transform="translate(300.10 256.27) scale(1 1.15)" font-size="4.65" text-anchor="end" font-weight="bold">50</text>
<line x1="302.30" y1="230.05" x2="303.50" y2="230.05" stroke="#555" stroke-width="0.6"/>
<text transform="translate(300.10 231.92) scale(1 1.15)" font-size="4.65" text-anchor="end" font-weight="bold">75</text>
<line x1="302.30" y1="205.70" x2="303.50" y2="205.70" stroke="#555" stroke-width="0.6"/>
<text transform="translate(300.10 207.57) scale(1 1.15)" font-size="4.65" text-anchor="end" font-weight="bold">100</text>
<line x1="303.50" y1="303.10" x2="303.50" y2="304.30" stroke="#555" stroke-width="0.6"/>
<text transform="translate(303.50 311.07) scale(1 1.15)" font-size="4.65" text-anchor="middle" font-weight="bold">0</text>
<line x1="324.05" y1="303.10" x2="324.05" y2="304.30" stroke="#555" stroke-width="0.6"/>
<text transform="translate(324.05 311.07) scale(1 1.15)" font-size="4.65" text-anchor="middle" font-weight="bold">1</text>
<line x1="344.60" y1="303.10" x2="344.60" y2="304.30" stroke="#555" stroke-width="0.6"/>
<text transform="translate(344.60 311.07) scale(1 1.15)" font-size="4.65" text-anchor="middle" font-weight="bold">2</text>
<line x1="365.15" y1="303.10" x2="365.15" y2="304.30" stroke="#555" stroke-width="0.6"/>
<text transform="translate(365.15 311.07) scale(1 1.15)" font-size="4.65" text-anchor="middle" font-weight="bold">3</text>
<line x1="385.70" y1="303.10" x2="385.70" y2="304.30" stroke="#555" stroke-width="0.6"/>
<text transform="translate(385.70 311.07) scale(1 1.15)" font-size="4.65" text-anchor="middle" font-weight="bold">4</text>
<line x1="406.25" y1="303.10" x2="406.25" y2="304.30" stroke="#555" stroke-width="0.6"/>
<text transform="translate(406.25 311.07) scale(1 1.15)" font-size="4.65" text-anchor="middle" font-weight="bold">5</text>
<line x1="426.80" y1="303.10" x2="426.80" y2="304.30" stroke="#555" stroke-width="0.6"/>
<text transform="translate(426.80 311.07) scale(1 1.15)" font-size="4.65" text-anchor="middle" font-weight="bold">6</text>
<line x1="447.35" y1="303.10" x2="447.35" y2="304.30" stroke="#555" stroke-width="0.6"/>
<text transform="translate(447.35 311.07) scale(1 1.15)" font-size="4.65" text-anchor="middle" font-weight="bold">7</text>
<line x1="467.90" y1="303.10" x2="467.90" y2="304.30" stroke="#555" stroke-width="0.6"/>
<text transform="translate(467.90 311.07) scale(1 1.15)" font-size="4.65" text-anchor="middle" font-weight="bold">8</text>
<line x1="488.45" y1="303.10" x2="488.45" y2="304.30" stroke="#555" stroke-width="0.6"/>
<text transform="translate(488.45 311.07) scale(1 1.15)" font-size="4.65" text-anchor="middle" font-weight="bold">9</text>
<line x1="509.00" y1="303.10" x2="509.00" y2="304.30" stroke="#555" stroke-width="0.6"/>
<text transform="translate(509.00 311.07) scale(1 1.15)" font-size="4.65" text-anchor="middle" font-weight="bold">10</text>
<text x="287.67" y="254.40" font-size="4.65" font-weight="bold" text-anchor="middle" transform="rotate(-90 287.67 254.40)" fill="#111">% alive</text>
<text transform="translate(389.00 322.87) scale(1 1.15)" font-size="4.65" font-weight="bold" textLength="36.30" lengthAdjust="spacingAndGlyphs">Years from entry</text>
<text transform="translate(378.00 207.34) scale(1 1.07)" font-size="4.65" text-anchor="middle" font-weight="bold">No.</text>
<text transform="translate(400.20 207.34) scale(1 1.07)" font-size="4.65" text-anchor="middle" font-weight="bold">No.</text>
<text transform="translate(378.00 212.14) scale(1 1.07)" font-size="4.65" text-anchor="middle" font-weight="bold">Patients</text>
<text transform="translate(400.20 212.14) scale(1 1.07)" font-size="4.65" text-anchor="middle" font-weight="bold">Events</text>
<text transform="translate(365.20 218.34) scale(1 1.07)" font-size="4.65" text-anchor="end" font-weight="bold">Ratio &lt;0.5</text>
<text transform="translate(381.00 218.34) scale(1 1.07)" font-size="4.65" text-anchor="end" font-weight="bold">47</text>
<text transform="translate(404.00 218.34) scale(1 1.07)" font-size="4.65" text-anchor="end" font-weight="bold">24</text>
<text transform="translate(365.20 222.64) scale(1 1.07)" font-size="4.65" text-anchor="end" font-weight="bold">Ratio 0.5–1.0</text>
<text transform="translate(381.00 222.64) scale(1 1.07)" font-size="4.65" text-anchor="end" font-weight="bold">143</text>
<text transform="translate(404.00 222.64) scale(1 1.07)" font-size="4.65" text-anchor="end" font-weight="bold">93</text>
<text transform="translate(365.20 226.94) scale(1 1.07)" font-size="4.65" text-anchor="end" font-weight="bold">Ratio &gt;1.0</text>
<text transform="translate(381.00 226.94) scale(1 1.07)" font-size="4.65" text-anchor="end" font-weight="bold">94</text>
<text transform="translate(404.00 226.94) scale(1 1.07)" font-size="4.65" text-anchor="end" font-weight="bold">68</text>
<rect x="431.90" y="205.10" width="77.60" height="17.30" fill="none" stroke="#444" stroke-width="0.9"/>
<line x1="438.70" y1="209.10" x2="459.70" y2="209.10" stroke="#484848" stroke-width="1.1"/>
<text transform="translate(461.90 210.89) scale(1 1.1)" font-size="4.65" font-weight="bold">ITD/NPM1 ratio &lt;0.5</text>
<line x1="438.70" y1="213.30" x2="459.70" y2="213.30" stroke="#505050" stroke-width="0.9" stroke-dasharray="0.8 0.45"/>
<text transform="translate(461.90 215.09) scale(1 1.1)" font-size="4.65" font-weight="bold">ITD/NPM1 ratio 0.5–1</text>
<line x1="438.70" y1="217.50" x2="459.70" y2="217.50" stroke="#5a5a5a" stroke-width="0.9" stroke-dasharray="1.4 0.45"/>
<text transform="translate(461.90 219.29) scale(1 1.1)" font-size="4.65" font-weight="bold">ITD/NPM1 ratio &gt;1.0</text>
<text x="462.50" y="237.60" font-size="6.4" font-weight="bold" fill="#000"><tspan font-style="italic">P</tspan> &lt;0.003</text>
<path d="M303.50,205.70H303.84V207.67H304.19V209.74H304.53V211.82H306.24V213.89H316.51V215.97H317.88V218.04H319.25V220.12H322.34V222.19H325.42V224.26H327.13V226.34H329.19V228.41H331.58V230.49H333.98V232.56H335.01V234.64H335.69V236.71H336.38V238.79H337.06V240.86H338.09V242.94H339.12V245.01H345.97V247.09H357.27V249.16H401.80V251.23H439.13V253.31H509.00" fill="none" stroke="#3a3a3a" stroke-width="1.15" stroke-linejoin="round"/>
<path d="M303.50,205.70 L309.25,220.02 L318.50,238.82 L324.05,244.66 L330.01,253.91 L340.08,256.84 L344.60,259.76 L352.82,262.19 L360.01,264.14 L406.04,266.58 L408.10,267.74 L430.09,268.91 L475.09,269.59 L509.00,269.59" fill="none" stroke="#505050" stroke-width="0.9" stroke-dasharray="0.8 0.45" stroke-linejoin="round"/>
<path d="M303.50,205.70 L307.61,218.46 L315.42,234.63 L317.27,239.98 L321.58,250.02 L325.49,254.98 L334.53,263.07 L346.24,267.74 L364.74,269.59 L408.51,272.32 L430.09,274.27 L448.58,275.83 L509.00,275.83" fill="none" stroke="#5a5a5a" stroke-width="0.9" stroke-dasharray="1.4 0.45" stroke-linejoin="round"/>
<text transform="translate(510.40 255.07) scale(1 1.15)" font-size="4.65" font-weight="bold">51%</text>
<text transform="translate(510.40 271.47) scale(1 1.15)" font-size="4.65" font-weight="bold">35%</text>
<text transform="translate(510.40 277.67) scale(1 1.15)" font-size="4.65" font-weight="bold">29%</text>
<text transform="translate(278.30 330.37) scale(1 1.15)" font-size="4.65" font-weight="bold">At risk:</text>
<text transform="translate(294.00 337.07) scale(1 1.15)" font-size="4.65" text-anchor="end" font-weight="bold">Ratio &lt;0.5</text>
<text transform="translate(305.70 337.07) scale(1 1.15)" font-size="4.65" text-anchor="end" font-weight="bold">47</text>
<text transform="translate(326.25 337.07) scale(1 1.15)" font-size="4.65" text-anchor="end" font-weight="bold">39</text>
<text transform="translate(346.80 337.07) scale(1 1.15)" font-size="4.65" text-anchor="end" font-weight="bold">28</text>
<text transform="translate(367.35 337.07) scale(1 1.15)" font-size="4.65" text-anchor="end" font-weight="bold">26</text>
<text transform="translate(387.90 337.07) scale(1 1.15)" font-size="4.65" text-anchor="end" font-weight="bold">26</text>
<text transform="translate(408.45 337.07) scale(1 1.15)" font-size="4.65" text-anchor="end" font-weight="bold">24</text>
<text transform="translate(429.00 337.07) scale(1 1.15)" font-size="4.65" text-anchor="end" font-weight="bold">23</text>
<text transform="translate(449.55 337.07) scale(1 1.15)" font-size="4.65" text-anchor="end" font-weight="bold">22</text>
<text transform="translate(470.10 337.07) scale(1 1.15)" font-size="4.65" text-anchor="end" font-weight="bold">21</text>
<text transform="translate(490.65 337.07) scale(1 1.15)" font-size="4.65" text-anchor="end" font-weight="bold">17</text>
<text transform="translate(511.20 337.07) scale(1 1.15)" font-size="4.65" text-anchor="end" font-weight="bold">15</text>
<text transform="translate(294.00 343.57) scale(1 1.15)" font-size="4.65" text-anchor="end" font-weight="bold">Ratio 0.5–1.0</text>
<text transform="translate(305.70 343.57) scale(1 1.15)" font-size="4.65" text-anchor="end" font-weight="bold">143</text>
<text transform="translate(326.25 343.57) scale(1 1.15)" font-size="4.65" text-anchor="end" font-weight="bold">91</text>
<text transform="translate(346.80 343.57) scale(1 1.15)" font-size="4.65" text-anchor="end" font-weight="bold">62</text>
<text transform="translate(367.35 343.57) scale(1 1.15)" font-size="4.65" text-anchor="end" font-weight="bold">54</text>
<text transform="translate(387.90 343.57) scale(1 1.15)" font-size="4.65" text-anchor="end" font-weight="bold">54</text>
<text transform="translate(408.45 343.57) scale(1 1.15)" font-size="4.65" text-anchor="end" font-weight="bold">51</text>
<text transform="translate(429.00 343.57) scale(1 1.15)" font-size="4.65" text-anchor="end" font-weight="bold">48</text>
<text transform="translate(449.55 343.57) scale(1 1.15)" font-size="4.65" text-anchor="end" font-weight="bold">43</text>
<text transform="translate(470.10 343.57) scale(1 1.15)" font-size="4.65" text-anchor="end" font-weight="bold">40</text>
<text transform="translate(490.65 343.57) scale(1 1.15)" font-size="4.65" text-anchor="end" font-weight="bold">32</text>
<text transform="translate(511.20 343.57) scale(1 1.15)" font-size="4.65" text-anchor="end" font-weight="bold">27</text>
<text transform="translate(294.00 349.97) scale(1 1.15)" font-size="4.65" text-anchor="end" font-weight="bold">Ratio &gt;1.0</text>
<text transform="translate(305.70 349.97) scale(1 1.15)" font-size="4.65" text-anchor="end" font-weight="bold">94</text>
<text transform="translate(326.25 349.97) scale(1 1.15)" font-size="4.65" text-anchor="end" font-weight="bold">47</text>
<text transform="translate(346.80 349.97) scale(1 1.15)" font-size="4.65" text-anchor="end" font-weight="bold">35</text>
<text transform="translate(367.35 349.97) scale(1 1.15)" font-size="4.65" text-anchor="end" font-weight="bold">32</text>
<text transform="translate(387.90 349.97) scale(1 1.15)" font-size="4.65" text-anchor="end" font-weight="bold">32</text>
<text transform="translate(408.45 349.97) scale(1 1.15)" font-size="4.65" text-anchor="end" font-weight="bold">27</text>
<text transform="translate(429.00 349.97) scale(1 1.15)" font-size="4.65" text-anchor="end" font-weight="bold">23</text>
<text transform="translate(449.55 349.97) scale(1 1.15)" font-size="4.65" text-anchor="end" font-weight="bold">20</text>
<text transform="translate(470.10 349.97) scale(1 1.15)" font-size="4.65" text-anchor="end" font-weight="bold">17</text>
<text transform="translate(490.65 349.97) scale(1 1.15)" font-size="4.65" text-anchor="end" font-weight="bold">14</text>
<text transform="translate(511.20 349.97) scale(1 1.15)" font-size="4.65" text-anchor="end" font-weight="bold">11</text>
</svg>
</body></html>
